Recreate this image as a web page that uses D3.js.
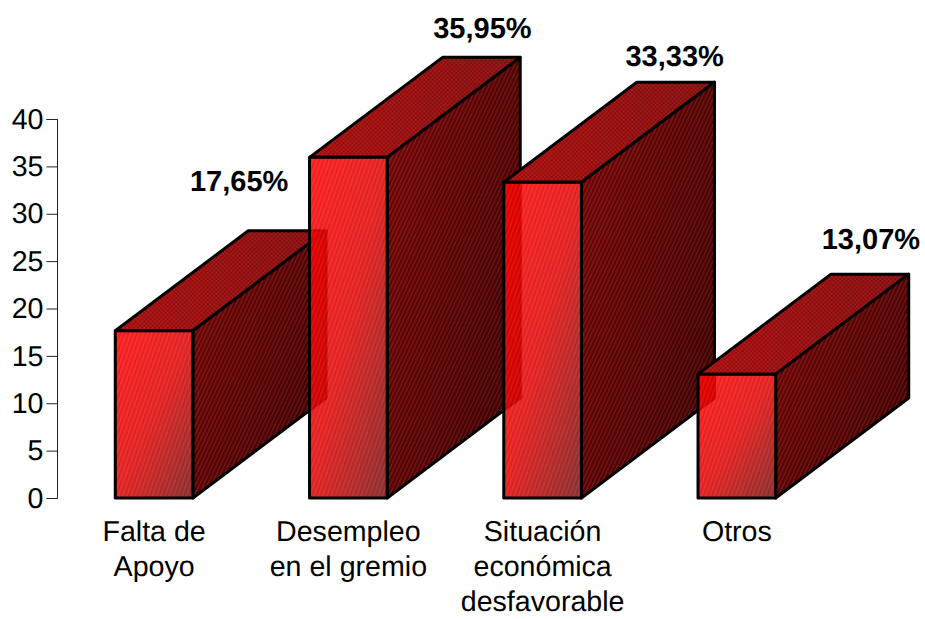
<!DOCTYPE html>
<html><head><meta charset="utf-8">
<script src="https://cdn.jsdelivr.net/npm/d3@7"></script>
<style>html,body{margin:0;background:#fff}svg{display:block}text{font-family:"Liberation Sans",Arial,sans-serif;fill:#000;text-rendering:geometricPrecision}</style>
</head><body><div id="c"></div>
<script>
const categories = ["Falta de|Apoyo", "Desempleo|en el gremio", "Situación|económica|desfavorable", "Otros"];
const values = [17.65, 35.95, 33.33, 13.07];
const valueLabels = ["17,65%", "35,95%", "33,33%", "13,07%"];
const tickValues = [0, 5, 10, 15, 20, 25, 30, 35, 40];

const W = 925, H = 619;
const depthX = 133, depthY = 100;
const labelNudge = [[-48, -40], [1, -19], [-1, -16], [1, -25]];

const svg = d3.select("#c").append("svg").attr("width", W).attr("height", H);
const x = d3.scaleBand().domain(categories).range([57, 834]).paddingInner(0.6).paddingOuter(0.3);
const y = d3.scaleLinear().domain([0, 40]).range([498, 119]);
const defs = svg.append("defs");

function grad(id, x1, y1, x2, y2, stops) {
  const g = defs.append("linearGradient").attr("id", id)
    .attr("x1", x1).attr("y1", y1).attr("x2", x2).attr("y2", y2);
  stops.forEach(([o, c]) => g.append("stop").attr("offset", o).attr("stop-color", c));
}
grad("gFront", 0.05, 0.05, 0.95, 0.95, [[0, "#ff0000"], [0.5, "#e60404"], [1, "#861212"]]);
grad("gTop", 0, 0.5, 1, 0.5, [[0, "#b00f0f"], [1, "#8e1010"]]);
grad("gSide", 0, 0.1, 1, 0.9, [[0, "#800606"], [1, "#420000"]]);

function hatch(id, size, rot, draw) {
  const p = defs.append("pattern").attr("id", id).attr("patternUnits", "userSpaceOnUse")
    .attr("width", size).attr("height", size).attr("patternTransform", "rotate(" + rot + ")");
  draw(p);
}
hatch("hFront", 4, 20, p => {
  p.append("rect").attr("width", 1.4).attr("height", 4).attr("fill", "#fff").attr("opacity", 0.07);
  p.append("rect").attr("x", 2).attr("width", 1.4).attr("height", 4).attr("fill", "#000").attr("opacity", 0.08);
});
hatch("hSide", 3.6, 25, p => {
  p.append("rect").attr("width", 1).attr("height", 3.6).attr("fill", "#fff").attr("opacity", 0.1);
  p.append("rect").attr("x", 1.8).attr("width", 1).attr("height", 3.6).attr("fill", "#000").attr("opacity", 0.25);
});
hatch("hTop", 3, 45, p => {
  p.append("rect").attr("width", 1.5).attr("height", 1.5).attr("fill", "#fff").attr("opacity", 0.08);
  p.append("rect").attr("x", 1.5).attr("y", 1.5).attr("width", 1.5).attr("height", 1.5).attr("fill", "#000").attr("opacity", 0.22);
});

const axis = d3.axisLeft(y).tickValues(tickValues).tickSize(11).tickPadding(3).tickFormat(d3.format("d"));
const gAxis = svg.append("g").attr("transform", "translate(57.5,0)").call(axis);
gAxis.select(".domain").attr("stroke", "#222").attr("stroke-width", 1).attr("d", "M-11," + (y(40) + .5) + "H0V" + (y(0) + .5) + "H-11");
gAxis.selectAll(".tick line").attr("stroke", "#222");
gAxis.selectAll("text").attr("font-size", 28.6).style("font-family", '"Liberation Sans",Arial,sans-serif').attr("fill", "#000");

const data = categories.map((c, i) => ({ c, v: values[i], label: valueLabels[i], i }));
const bars = svg.selectAll("g.bar").data(data).join("g").attr("class", "bar");

function face(sel, pts, fill, pat, op) {
  const d = "M" + pts.map(p => p.join(",")).join("L") + "Z";
  const g = sel.append("g");
  g.append("path").attr("d", d).attr("fill", fill).attr("opacity", op);
  g.append("path").attr("d", d).attr("fill", pat);
  g.append("path").attr("d", d).attr("fill", "none").attr("stroke", "#000").attr("stroke-width", 3).attr("stroke-linejoin", "round");
}
bars.each(function (d) {
  const g = d3.select(this);
  const l = x(d.c), r = l + x.bandwidth(), t = y(d.v), b = y(0);
  face(g, [[l, t], [l + depthX, t - depthY], [r + depthX, t - depthY], [r, t]], "url(#gTop)", "url(#hTop)", 1);
  face(g, [[r, t], [r + depthX, t - depthY], [r + depthX, b - depthY], [r, b]], "url(#gSide)", "url(#hSide)", 1);
  face(g, [[l, t], [r, t], [r, b], [l, b]], "url(#gFront)", "url(#hFront)", 0.87);
});

svg.selectAll("text.val").data(data).join("text").attr("class", "val")
  .attr("x", d => x(d.c) + x.bandwidth() / 2 + depthX + labelNudge[d.i][0])
  .attr("y", d => y(d.v) - depthY + labelNudge[d.i][1])
  .attr("text-anchor", "middle").attr("font-weight", "bold").attr("font-size", 29).text(d => d.label);

const cat = svg.selectAll("text.cat").data(data).join("text").attr("class", "cat")
  .attr("text-anchor", "middle").attr("font-size", 28.6);
cat.each(function (d) {
  d.c.split("|").forEach((line, k) => {
    d3.select(this).append("tspan").attr("x", x(d.c) + x.bandwidth() / 2)
      .attr("y", 541 + k * 35).text(line);
  });
});
</script></body></html>
